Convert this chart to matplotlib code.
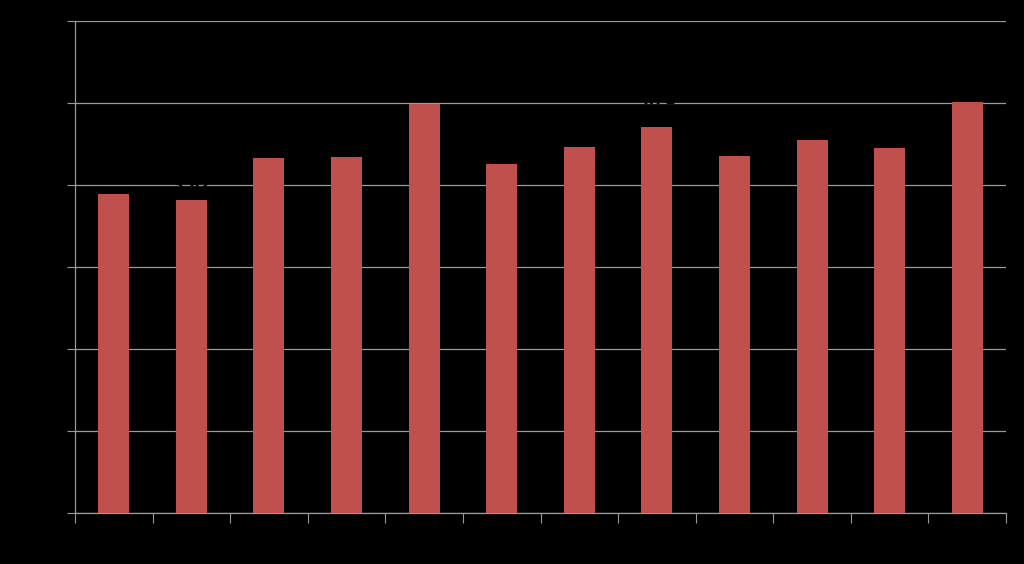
import matplotlib
matplotlib.use("Agg")
import matplotlib.pyplot as plt
import numpy as np

# category labels and bar values
categories = ["1", "2", "3", "4", "5", "6", "7", "8", "9", "10", "11", "12"]
values = [3.89, 3.82, 4.33, 4.34, 4.99, 4.26, 4.46, 4.71, 4.35, 4.55, 4.45, 5.01]
yticks = [0, 1, 2, 3, 4, 5, 6]
# only two bars carry a (black) label that shows where it cuts a gridline
labelled = [1, 7]
label_gap = [0.17, 0.33]

grid_col = "#9a9a9a"
bar_col = "#c0504d"

fig = plt.figure(figsize=(10.24, 5.64), dpi=100, facecolor="black")
ax = fig.add_axes([75/1024, 51/564, 931/1024, 492/564], facecolor="black")

x = np.arange(len(categories))
ax.bar(x, values, width=0.4, color=bar_col, zorder=3)

for i, gap in zip(labelled, label_gap):
    ax.text(x[i], values[i] + gap, f"{values[i]:.2f}", ha="center", va="center",
            color="black", fontsize=11, fontweight="bold", zorder=4)

ax.set_xlim(-0.5, len(categories) - 0.5)
ax.set_ylim(0, 6)
ax.set_yticks(yticks)
ax.set_xticks(np.arange(len(categories) + 1) - 0.5, minor=False)
ax.set_xticklabels([])
ax.set_xticks(x, minor=True)
ax.set_xticklabels(categories, minor=True, color="black")
ax.tick_params(axis="x", which="minor", length=0)
ax.tick_params(axis="x", which="major", length=7, color=grid_col, direction="out")
ax.tick_params(axis="y", length=6, color=grid_col, labelcolor="black")

ax.yaxis.grid(True, color=grid_col, linewidth=0.9, zorder=0)
for side in ["top", "right"]:
    ax.spines[side].set_visible(False)
for side in ["left", "bottom"]:
    ax.spines[side].set_color(grid_col)
    ax.spines[side].set_linewidth(0.9)

fig.savefig("out.png", dpi=100, facecolor="black")
